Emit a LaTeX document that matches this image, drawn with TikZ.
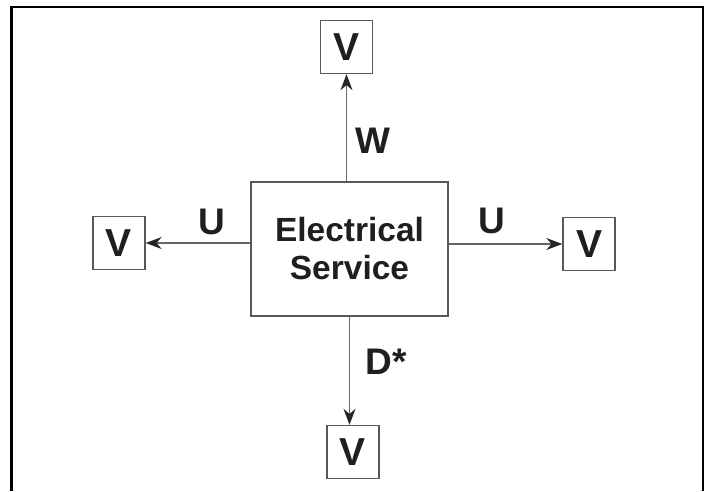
\documentclass[tikz,border=0pt]{standalone}
\usepackage{fontspec}
\setmainfont{Liberation Sans}
\usetikzlibrary{arrows.meta}

\begin{document}
\begin{tikzpicture}[x=1pt,y=1pt,
    every node/.style={rectangle,draw=black!65,line width=1.4pt,text=black!88,font=\bfseries},
    vbox/.style={minimum width=52pt,minimum height=53pt,inner sep=0pt,font=\fontsize{39}{40}\selectfont\bfseries},
    lbl/.style={draw=none,inner sep=0pt,font=\fontsize{37}{40}\selectfont\bfseries},
    feed/.style={draw=black!60,line width=1.3pt,-{Stealth[length=16pt,width=12pt,color=black!85]}}]
    \useasboundingbox (0,0) rectangle (709,491);
    \draw[line width=2.6pt] (11.5,0) |- (703,484) -- (703,0);

    \node (svc) [minimum width=197pt,minimum height=134pt,align=center,
      font=\fontsize{33.5}{38}\selectfont\bfseries] at (349.5,242) {Electrical\\Service};

    \node (top) [vbox] at (346.5,444) {V};
    \node (lft) [vbox] at (119,248) {V};
    \node (rgt) [vbox] at (589,247) {V};
    \node (bot) [vbox] at (353,39) {V};

    \node (w) [lbl] at (373,350) {W};
    \node (ul) [lbl] at (212,269) {U};
    \node (ur) [lbl] at (492,270) {U};
    \node (d) [lbl] at (386,129) {D*};

  \draw[feed] (svc.north -| top) -- (top);
  \draw[feed] (svc.west |- lft) -- (lft);
  \draw[feed] (svc.east |- rgt) -- (rgt);
  \draw[feed] (svc.south) -- (svc.south |- bot.north);
  \end{tikzpicture}
\end{document}
